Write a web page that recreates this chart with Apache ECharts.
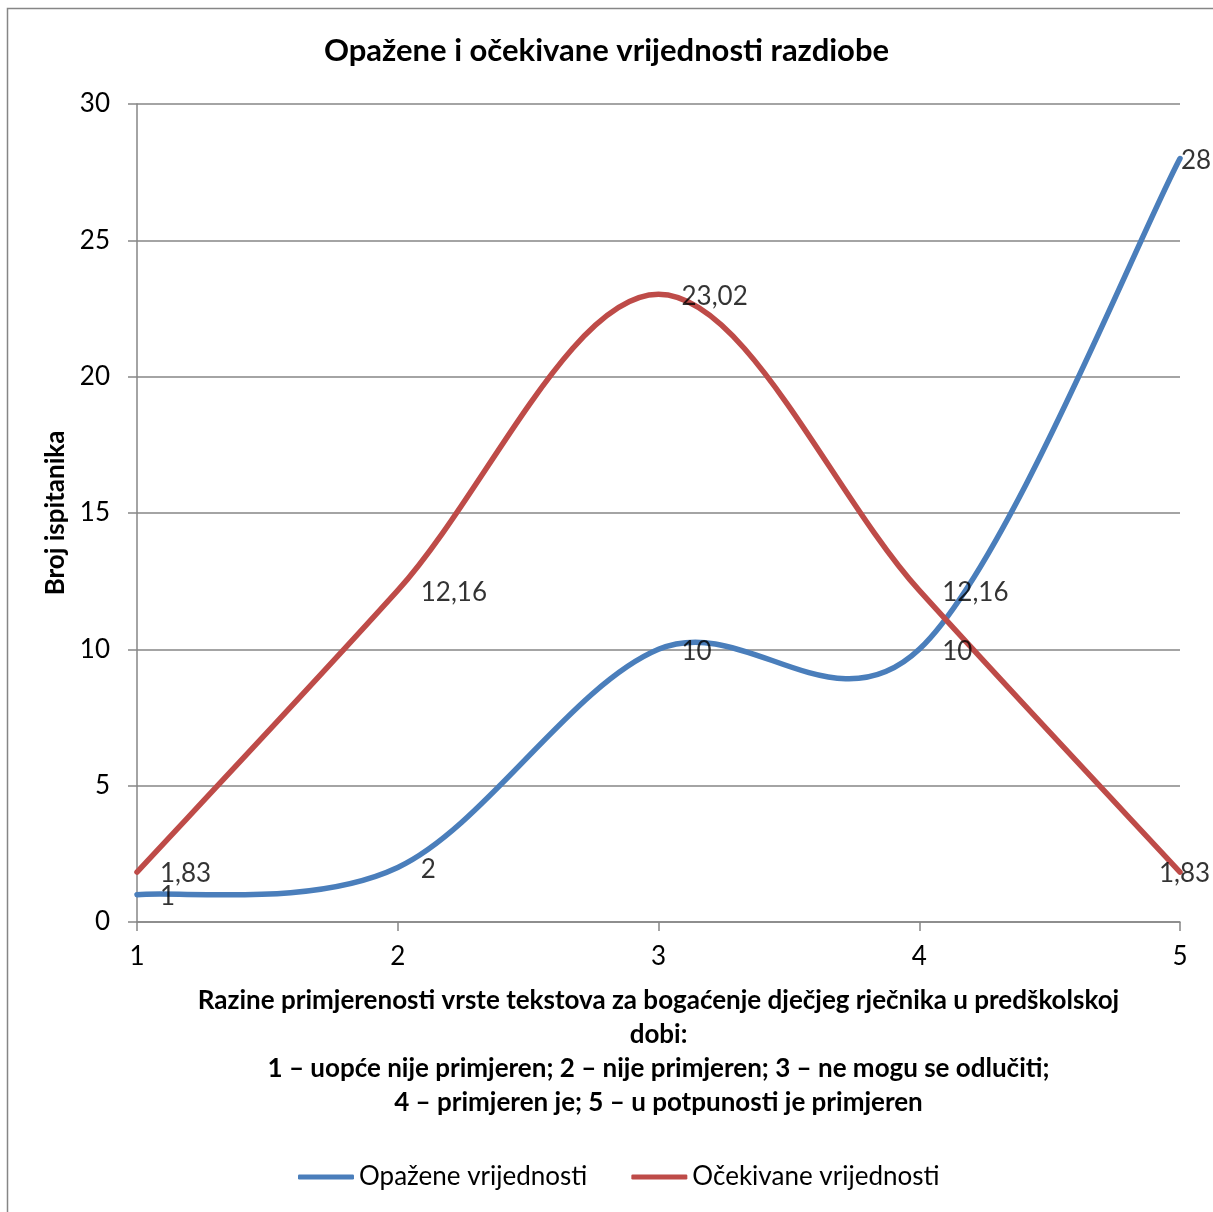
<!DOCTYPE html>
<html><head><meta charset="utf-8">
<script src="https://cdn.jsdelivr.net/npm/echarts@6/dist/echarts.min.js"></script>
<style>html,body{margin:0;padding:0;background:#fff}#c{width:1213px;height:1212px}</style>
</head><body><div id="c"></div>
<script>
const xValues = [1, 2, 3, 4, 5];
const observed = [1, 2, 10, 10, 28];
const expected = [1.83, 12.16, 23.02, 12.16, 1.83];
const yTicks = [0, 5, 10, 15, 20, 25, 30];
const seriesNames = ['Opažene vrijednosti', 'Očekivane vrijednosti'];
const titleText = 'Opažene i očekivane vrijednosti razdiobe';
const yName = 'Broj ispitanika';
const xName = 'Razine primjerenosti vrste tekstova za bogaćenje dječjeg rječnika u predškolskoj\ndobi:\n1 – uopće nije primjeren; 2 – nije primjeren; 3 – ne mogu se odlučiti;\n4 – primjeren je; 5 – u potpunosti je primjeren';

const FONT = 'Lato';
const BLUE = '#4A7EBB';
const RED = '#BE4B48';
const fmt = v => String(v).replace('.', ',');

// Excel-style smoothed curve (Catmull-Rom bezier) drawn through axis coordinates
function curveSeries(name, vals, color, z) {
  return {
    name: name, type: 'custom', z: z,
    data: xValues.map((x, i) => [x, vals[i]]),
    encode: { x: 0, y: 1 },
    itemStyle: { color: color },
    renderItem: function (params, api) {
      if (params.dataIndex !== 0) return null;
      const pts = xValues.map((x, i) => api.coord([x, vals[i]]));
      let d = 'M' + pts[0][0] + ',' + pts[0][1];
      for (let i = 0; i < pts.length - 1; i++) {
        const p0 = pts[Math.max(i - 1, 0)], p1 = pts[i], p2 = pts[i + 1], p3 = pts[Math.min(i + 2, pts.length - 1)];
        const c1 = [p1[0] + (p2[0] - p0[0]) / 6, p1[1] + (p2[1] - p0[1]) / 6];
        const c2 = [p2[0] - (p3[0] - p1[0]) / 6, p2[1] - (p3[1] - p1[1]) / 6];
        d += ' C' + c1[0] + ',' + c1[1] + ' ' + c2[0] + ',' + c2[1] + ' ' + p2[0] + ',' + p2[1];
      }
      return {
        type: 'path', shape: { pathData: d },
        style: { fill: 'none', stroke: color, lineWidth: 5.5, lineCap: 'round', lineJoin: 'round' },
        silent: true
      };
    }
  };
}

function labelSeries(id, vals, lastOffset, z) {
  return {
    id: id, name: id, type: 'scatter', z: z, symbolSize: 0, silent: true,
    data: xValues.map((x, i) => {
      const d = { value: [x, vals[i]] };
      if (i === xValues.length - 1) d.label = { distance: 1, offset: [lastOffset, 2] };
      return d;
    }),
    label: { show: true, position: 'right', distance: 23, offset: [0, 2], color: '#000', fontFamily: FONT, fontSize: 26,
      formatter: p => fmt(p.value[1]) }
  };
}

const chart = echarts.init(document.getElementById('c'), null, { renderer: 'canvas' });
chart.setOption({
  animation: false,
  backgroundColor: '#fff',
  textStyle: { fontFamily: FONT },
  graphic: [{
    type: 'rect', shape: { x: 7.5, y: 8.5, width: 1220, height: 1220 },
    style: { fill: 'none', stroke: '#868686', lineWidth: 1.5 }, silent: true
  }],
  title: {
    text: titleText, left: 'center', top: 30,
    textStyle: { fontFamily: FONT, fontSize: 31, fontWeight: 'bold', color: '#000' }
  },
  legend: {
    bottom: 22, left: 298, padding: 0, itemWidth: 56, itemHeight: 5, itemGap: 44,
    icon: 'roundRect',
    textStyle: { fontFamily: FONT, fontSize: 26, color: '#000' },
    data: seriesNames
  },
  grid: { left: 137, right: 33, top: 104, bottom: 290, containLabel: false },
  xAxis: {
    type: 'value', min: 1, max: 5, interval: 1,
    name: xName, nameLocation: 'middle', nameGap: 62,
    nameTextStyle: { fontFamily: FONT, fontSize: 26, fontWeight: 'bold', color: '#000', lineHeight: 34, align: 'center', verticalAlign: 'top' },
    axisLine: { show: true, lineStyle: { color: '#868686', width: 1.5 } },
    axisTick: { show: true, length: 9, lineStyle: { color: '#868686', width: 1.5 } },
    axisLabel: { fontFamily: FONT, fontSize: 26, color: '#000', margin: 22 },
    splitLine: { show: false }
  },
  yAxis: {
    type: 'value', min: 0, max: 30, interval: 5,
    name: yName, nameLocation: 'middle', nameGap: 60, nameRotate: 90,
    nameTextStyle: { fontFamily: FONT, fontSize: 26, fontWeight: 'bold', color: '#000' },
    axisLine: { show: true, lineStyle: { color: '#868686', width: 1.5 } },
    axisTick: { show: true, length: 9, lineStyle: { color: '#868686', width: 1.5 } },
    axisLabel: { fontFamily: FONT, fontSize: 26, color: '#000', margin: 27,
      formatter: v => yTicks.includes(v) ? String(v) : '' },
    splitLine: { show: true, lineStyle: { color: '#868686', width: 1.5 } }
  },
  series: [
    curveSeries(seriesNames[0], observed, BLUE, 3),
    curveSeries(seriesNames[1], expected, RED, 4),
    labelSeries('obsLabels', observed, 0, 5),
    labelSeries('expLabels', expected, -22, 5)
  ]
});
</script>
</body></html>
